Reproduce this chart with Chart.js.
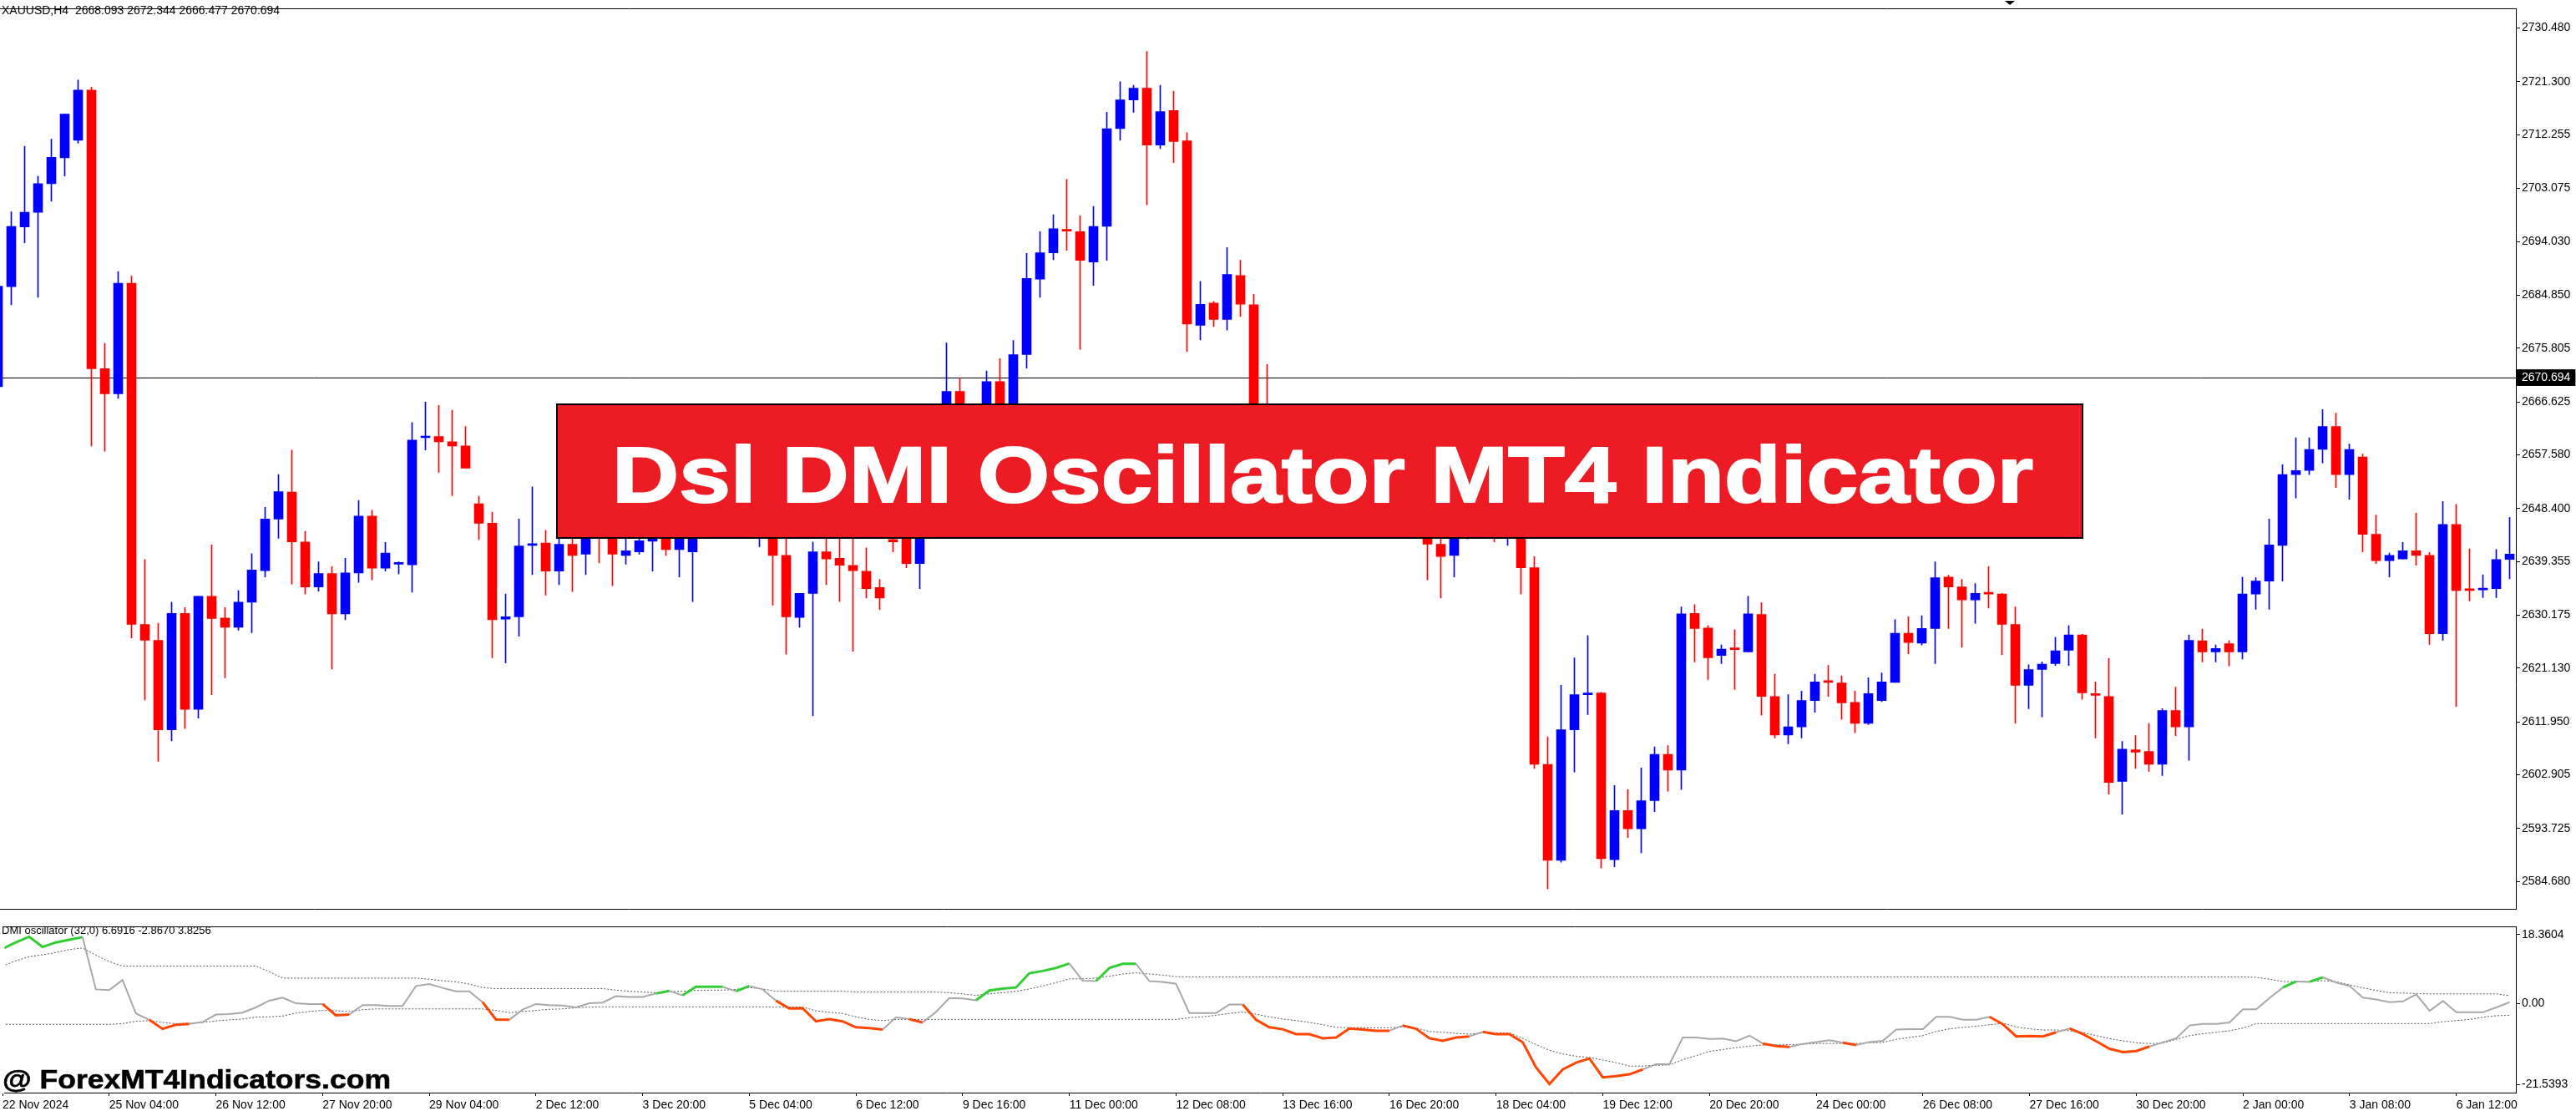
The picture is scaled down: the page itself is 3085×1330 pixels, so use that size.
<!DOCTYPE html>
<html>
<head>
<meta charset="utf-8">
<title>Dsl DMI Oscillator MT4 Indicator</title>
<script src="https://cdn.jsdelivr.net/npm/chart.js@4.4.1/dist/chart.umd.min.js"></script>
<style>
  html, body { margin: 0; padding: 0; background: #fff; }
  body { width: 3085px; height: 1330px; position: relative; overflow: hidden; font-family: "Liberation Sans", Arial, sans-serif; }
  canvas { position: absolute; left: 0; }
  #priceChart { top: 0; }
  #oscChart { top: 1099px; }
  .txt { position: absolute; white-space: nowrap; color: #000; line-height: 1; }
  #banner { position: absolute; left: 666px; top: 483px; width: 1829px; height: 162px; box-sizing: border-box;
            background: #ed1c24; border: 2px solid #000; }
  #bannerText { position: absolute; left: 65px; top: 36px; color: #fff; font-weight: bold; font-size: 95px;
                line-height: 1; white-space: nowrap; transform-origin: left center;
                -webkit-text-stroke: 2px #fff; }
  #watermark { left: 3px; top: 1276px; font-size: 32px; font-weight: bold; transform-origin: left center;
               -webkit-text-stroke: 0.6px #000; }
  #shiftMark { position: absolute; left: 2401px; top: 1px; width: 0; height: 0;
               border-left: 6px solid transparent; border-right: 6px solid transparent; border-top: 5px solid #000; }
</style>
</head>
<body>
<canvas id="priceChart" width="3085" height="1099"></canvas>
<canvas id="oscChart" width="3085" height="231"></canvas>

<div class="txt" style="left:2px; top:5px; font-size:14px;">XAUUSD,H4&nbsp;&nbsp;2668.093 2672.344 2666.477 2670.694</div>
<div class="txt" style="left:2px; top:1107px; font-size:13px;">DMI oscillator (32,0) 6.6916 -2.8670 3.8256</div>
<div id="banner"><span id="bannerText">Dsl DMI Oscillator MT4 Indicator</span></div>
<div class="txt" id="watermark">@ ForexMT4Indicators.com</div>
<div id="shiftMark"></div>

<script>
// XAUUSD H4 candles, 22 Nov 2024 .. 6 Jan 2025
const opens = [
  2669.2, 2686.3, 2696.5, 2699.0, 2703.9, 2708.3, 2711.3, 2719.9, 2672.3, 2668.0,
  2686.9, 2628.6, 2625.9, 2610.6, 2630.5, 2614.1, 2633.4, 2629.7, 2628.1, 2632.4,
  2637.8, 2646.6, 2651.2, 2642.7, 2635.0, 2637.3, 2630.4, 2637.4, 2647.1, 2638.2,
  2638.9, 2638.8, 2660.5, 2660.7, 2659.8, 2659.1, 2649.2, 2645.9, 2629.5, 2629.9,
  2642.1, 2642.5, 2637.7, 2642.3, 2640.6, 2645.0, 2644.0, 2640.4, 2641.0, 2642.8,
  2644.0, 2641.4, 2641.0, 2646.0, 2650.5, 2648.0, 2649.5, 2646.2, 2648.5, 2640.4,
  2629.8, 2633.9, 2641.0, 2639.9, 2638.7, 2637.7, 2634.9, 2643.1, 2646.0, 2639.0,
  2647.5, 2654.0, 2668.4, 2661.0, 2663.0, 2670.1, 2665.0, 2674.7, 2687.6, 2692.1,
  2696.0, 2695.7, 2690.5, 2696.6, 2713.3, 2718.2, 2720.2, 2710.5, 2716.4, 2711.2,
  2679.7, 2683.5, 2680.7, 2688.2, 2683.2, 2660.0, 2657.0, 2653.0, 2650.0, 2653.0,
  2651.0, 2648.5, 2652.0, 2649.0, 2650.5, 2651.0, 2654.0, 2648.0, 2642.3, 2640.4,
  2645.5, 2648.0, 2649.0, 2647.0, 2649.0, 2638.3, 2604.7, 2588.3, 2610.6, 2616.6,
  2616.9, 2588.4, 2596.8, 2593.7, 2598.5, 2606.4, 2603.7, 2630.5, 2628.0, 2623.3,
  2624.5, 2623.9, 2630.3, 2616.3, 2609.7, 2611.1, 2615.6, 2618.9, 2618.6, 2615.3,
  2611.7, 2615.6, 2618.7, 2627.1, 2625.4, 2627.9, 2636.7, 2635.0, 2632.8, 2634.0,
  2633.8, 2628.6, 2618.2, 2620.9, 2621.9, 2624.2, 2626.8, 2616.8, 2616.3, 2601.8,
  2607.2, 2606.9, 2604.7, 2613.9, 2611.1, 2625.8, 2623.9, 2625.3, 2623.9, 2633.8,
  2636.0, 2642.1, 2654.2, 2654.9, 2658.5, 2662.4, 2654.2, 2657.2, 2644.0, 2639.5,
  2639.8, 2641.2, 2640.4, 2627.0, 2645.7, 2634.6, 2634.5, 2634.7, 2639.7
];
const highs = [
  2687.7, 2699.1, 2710.3, 2705.2, 2711.5, 2715.8, 2721.6, 2720.4, 2676.6, 2688.9,
  2688.1, 2639.7, 2628.8, 2632.4, 2631.5, 2633.4, 2642.2, 2631.5, 2634.4, 2640.7,
  2648.6, 2654.2, 2658.4, 2644.5, 2639.3, 2638.5, 2639.9, 2649.8, 2648.1, 2642.6,
  2639.3, 2663.1, 2666.6, 2666.0, 2665.2, 2662.4, 2650.5, 2647.8, 2633.8, 2646.6,
  2652.1, 2644.7, 2644.4, 2644.4, 2646.0, 2647.0, 2646.0, 2643.2, 2644.5, 2646.0,
  2646.0, 2646.0, 2648.0, 2652.0, 2654.0, 2651.0, 2652.0, 2650.0, 2650.0, 2645.0,
  2633.9, 2642.7, 2645.0, 2645.0, 2645.0, 2641.7, 2636.3, 2645.0, 2647.0, 2649.0,
  2656.0, 2676.7, 2670.7, 2665.0, 2671.9, 2674.0, 2677.1, 2692.0, 2695.7, 2698.6,
  2704.6, 2698.4, 2700.0, 2716.1, 2721.3, 2720.7, 2726.5, 2720.7, 2719.7, 2712.6,
  2687.2, 2683.8, 2693.0, 2690.8, 2685.0, 2673.0, 2661.0, 2656.0, 2655.0, 2657.0,
  2654.0, 2653.0, 2655.0, 2652.0, 2654.0, 2656.0, 2655.0, 2650.0, 2644.0, 2647.0,
  2650.0, 2651.0, 2652.0, 2651.0, 2650.0, 2640.2, 2609.4, 2618.2, 2622.9, 2626.7,
  2617.0, 2601.1, 2600.4, 2604.1, 2607.7, 2607.9, 2631.6, 2632.0, 2628.4, 2625.1,
  2627.7, 2633.4, 2632.3, 2620.1, 2616.6, 2617.2, 2620.1, 2621.6, 2619.8, 2617.2,
  2619.5, 2620.3, 2629.4, 2629.9, 2630.1, 2639.3, 2637.0, 2636.3, 2635.6, 2638.5,
  2633.9, 2631.6, 2621.7, 2622.2, 2626.4, 2628.4, 2626.9, 2618.8, 2622.8, 2608.6,
  2609.6, 2611.7, 2614.2, 2617.9, 2626.8, 2627.8, 2625.1, 2625.8, 2636.7, 2636.6,
  2646.6, 2655.9, 2660.5, 2660.5, 2665.3, 2664.7, 2659.4, 2657.7, 2647.3, 2640.8,
  2642.6, 2647.6, 2640.9, 2649.6, 2649.1, 2641.5, 2637.1, 2641.4, 2646.9
];
const lows = [
  2668.5, 2683.2, 2693.8, 2684.5, 2700.9, 2705.2, 2710.8, 2659.1, 2658.2, 2667.2,
  2626.3, 2615.7, 2605.2, 2608.7, 2610.8, 2612.6, 2616.6, 2619.5, 2627.6, 2627.2,
  2636.7, 2643.3, 2635.5, 2633.8, 2634.3, 2621.0, 2629.4, 2635.8, 2636.2, 2637.7,
  2637.2, 2634.1, 2658.4, 2654.6, 2650.6, 2655.3, 2643.1, 2622.9, 2622.0, 2626.6,
  2637.1, 2633.6, 2635.4, 2634.2, 2637.1, 2639.1, 2635.2, 2638.9, 2640.6, 2637.7,
  2640.4, 2636.7, 2632.5, 2645.5, 2647.0, 2646.0, 2646.0, 2641.9, 2631.9, 2623.5,
  2628.1, 2613.0, 2635.4, 2632.5, 2624.0, 2633.1, 2631.1, 2641.0, 2638.3, 2634.7,
  2645.0, 2652.0, 2659.0, 2656.0, 2660.0, 2663.0, 2663.0, 2672.4, 2684.5, 2690.9,
  2692.5, 2675.6, 2686.5, 2690.8, 2711.3, 2716.1, 2700.3, 2709.9, 2707.5, 2675.2,
  2677.2, 2679.5, 2678.9, 2681.2, 2657.0, 2655.0, 2651.0, 2648.0, 2647.0, 2649.0,
  2647.0, 2646.5, 2648.0, 2646.5, 2647.0, 2648.0, 2647.0, 2636.2, 2633.1, 2636.7,
  2643.2, 2645.5, 2642.7, 2642.1, 2633.8, 2604.0, 2583.4, 2588.0, 2603.4, 2613.2,
  2587.0, 2587.2, 2592.2, 2589.6, 2596.6, 2600.1, 2600.4, 2622.2, 2619.2, 2621.9,
  2617.5, 2623.9, 2613.1, 2609.2, 2608.2, 2609.2, 2613.6, 2616.3, 2612.4, 2610.1,
  2611.5, 2615.4, 2618.7, 2623.6, 2625.1, 2621.9, 2627.9, 2624.7, 2628.8, 2631.4,
  2623.4, 2611.7, 2614.2, 2612.8, 2621.6, 2621.6, 2615.8, 2609.2, 2599.6, 2596.2,
  2604.0, 2603.5, 2602.8, 2609.6, 2605.4, 2622.2, 2622.2, 2621.5, 2622.7, 2631.2,
  2631.2, 2636.0, 2650.2, 2654.2, 2656.2, 2652.0, 2650.0, 2641.0, 2639.0, 2636.7,
  2639.8, 2638.7, 2625.2, 2625.9, 2614.6, 2632.6, 2633.2, 2633.2, 2636.4
];
const closes = [
  2686.4, 2696.6, 2699.0, 2703.9, 2708.4, 2715.8, 2719.9, 2672.3, 2668.0, 2686.9,
  2628.6, 2625.9, 2610.6, 2630.5, 2614.1, 2633.4, 2629.6, 2628.1, 2632.4, 2637.9,
  2646.6, 2651.3, 2642.7, 2635.0, 2637.3, 2630.4, 2637.4, 2647.1, 2638.2, 2640.8,
  2639.0, 2660.1, 2660.6, 2659.8, 2659.1, 2655.3, 2645.9, 2629.4, 2629.9, 2642.0,
  2642.4, 2637.7, 2642.3, 2640.4, 2643.9, 2643.5, 2640.6, 2641.2, 2642.9, 2644.0,
  2641.4, 2644.0, 2646.0, 2650.5, 2648.0, 2649.5, 2647.0, 2648.5, 2640.4, 2629.9,
  2633.9, 2641.0, 2639.8, 2638.7, 2637.8, 2634.7, 2633.1, 2642.7, 2639.0, 2647.5,
  2654.0, 2668.4, 2661.0, 2663.0, 2670.1, 2665.0, 2674.7, 2687.7, 2692.1, 2696.2,
  2695.8, 2690.8, 2696.6, 2713.3, 2718.2, 2720.2, 2710.5, 2716.2, 2711.1, 2679.9,
  2683.3, 2680.7, 2688.4, 2683.3, 2660.0, 2657.0, 2653.0, 2650.0, 2653.0, 2651.0,
  2648.5, 2652.0, 2649.0, 2650.5, 2651.0, 2654.0, 2648.0, 2642.3, 2640.2, 2645.5,
  2648.0, 2649.0, 2647.0, 2649.0, 2638.3, 2604.7, 2588.3, 2610.6, 2616.6, 2616.9,
  2588.6, 2596.8, 2593.7, 2598.5, 2606.4, 2603.7, 2630.4, 2627.9, 2622.9, 2624.4,
  2624.3, 2630.4, 2616.3, 2609.7, 2611.1, 2615.6, 2618.8, 2618.7, 2615.2, 2611.7,
  2616.8, 2618.8, 2627.1, 2625.5, 2627.9, 2636.6, 2635.0, 2632.8, 2633.9, 2633.8,
  2628.6, 2618.2, 2620.9, 2621.8, 2624.1, 2626.8, 2616.9, 2616.5, 2601.6, 2607.3,
  2606.8, 2604.7, 2613.9, 2611.1, 2625.9, 2623.9, 2624.5, 2623.9, 2633.8, 2636.0,
  2642.2, 2654.2, 2654.9, 2658.5, 2662.4, 2654.2, 2658.5, 2644.0, 2639.5, 2640.4,
  2641.2, 2640.4, 2627.0, 2645.7, 2634.4, 2634.4, 2634.7, 2639.7, 2640.6
];

// DMI oscillator line and its two dotted bands, one value per bar
const oscMain = [
  14.6, 16.3, 17.8, 15.1, 16.3, 17.0, 17.7, 3.8, 3.6, 6.3,
  -2.6, -4.3, -6.7, -5.6, -5.4, -4.9, -2.9, -2.8, -2.4, -1.0,
  0.8, 1.6, 0.1, -0.1, -0.1, -3.1, -2.9, -0.4, -0.4, -0.6,
  -0.6, 4.7, 5.2, 4.2, 3.3, 3.3, 0.4, -4.2, -4.3, -1.6,
  -0.1, -0.4, -0.5, -1.0, 0.1, 0.3, 2.0, 1.8, 1.8, 2.7,
  3.4, 2.2, 4.5, 4.5, 4.5, 3.3, 4.7, 3.8, 0.8, -1.3,
  -1.2, -4.7, -4.1, -4.7, -6.3, -6.5, -6.9, -3.6, -4.1, -5.0,
  -2.2, 1.5, 1.4, 0.9, 3.5, 4.0, 4.3, 8.1, 8.7, 9.5,
  10.7, 6.1, 6.0, 9.5, 10.6, 10.6, 6.0, 5.8, 5.3, -2.5,
  -2.5, -2.5, -0.2, -0.2, -4.3, -6.3, -6.8, -8.1, -8.1, -9.2,
  -9.0, -6.6, -6.9, -7.2, -7.2, -5.8, -6.7, -9.2, -9.9, -9.0,
  -8.7, -7.5, -8.1, -8.1, -10.3, -17.0, -21.4, -17.5, -15.7, -14.6,
  -19.6, -19.3, -18.8, -17.5, -16.1, -16.1, -9.0, -9.0, -9.4, -9.3,
  -10.0, -8.5, -10.6, -11.3, -11.5, -10.7, -10.2, -9.7, -10.4, -11.0,
  -10.2, -9.9, -6.9, -6.8, -6.8, -3.5, -3.5, -4.3, -4.3, -3.5,
  -5.5, -8.7, -8.6, -8.7, -7.6, -6.6, -8.1, -10.0, -12.0, -12.9,
  -12.6, -11.4, -10.3, -9.2, -5.8, -5.4, -5.4, -5.0, -1.5, -1.5,
  1.5, 4.3, 5.9, 5.8, 7.0, 5.6, 4.7, 1.6, 1.1, 0.4,
  0.6, 2.5, -1.9, 0.7, -2.3, -2.3, -2.3, -1.0, 0.4
];
const oscUpper = [
  10.0, 11.4, 12.5, 13.0, 13.6, 14.4, 14.8, 12.9, 11.2, 10.0,
  10.0, 10.0, 10.0, 10.0, 10.0, 10.0, 10.0, 10.0, 10.0, 10.0,
  8.5, 6.8, 6.8, 6.8, 6.8, 6.8, 6.8, 6.8, 6.8, 6.8,
  6.8, 6.8, 6.5, 6.1, 5.8, 5.2, 4.3, 4.0, 4.0, 4.0,
  4.0, 4.0, 4.0, 4.0, 4.0, 4.0, 3.6, 3.3, 3.1, 2.9,
  3.2, 3.3, 3.5, 3.6, 3.6, 3.8, 4.3, 3.9, 3.3, 3.3,
  3.3, 3.3, 3.3, 3.3, 3.1, 3.1, 3.1, 3.1, 3.1, 3.1,
  3.1, 2.9, 2.6, 2.2, 2.6, 2.9, 3.3, 3.9, 4.7, 5.6,
  6.6, 6.6, 6.8, 7.3, 7.9, 8.2, 7.9, 7.6, 7.2, 7.1,
  7.1, 7.1, 7.1, 7.1, 7.1, 7.1, 7.1, 7.1, 7.1, 7.1,
  7.1, 7.1, 7.1, 7.1, 7.1, 7.1, 7.1, 7.1, 7.1, 7.1,
  7.1, 7.1, 7.1, 7.1, 7.1, 7.1, 7.1, 7.1, 7.1, 7.1,
  7.1, 7.1, 7.1, 7.1, 7.1, 7.1, 7.1, 7.1, 7.1, 7.1,
  7.1, 7.1, 7.1, 7.1, 7.1, 7.1, 7.1, 7.1, 7.1, 7.1,
  7.1, 7.1, 7.1, 7.1, 7.1, 7.1, 7.1, 7.1, 7.1, 7.1,
  7.1, 7.1, 7.1, 7.1, 7.1, 7.1, 7.1, 7.1, 7.1, 7.1,
  7.1, 7.1, 7.1, 7.1, 7.1, 7.1, 7.1, 7.1, 7.1, 7.0,
  6.5, 5.9, 5.8, 5.9, 6.1, 5.8, 5.0, 4.2, 3.5, 2.9,
  2.8, 2.7, 2.6, 2.6, 2.6, 2.6, 2.6, 2.6, 2.1
];
const oscLower = [
  -5.5, -5.5, -5.5, -5.5, -5.5, -5.5, -5.5, -5.5, -5.5, -5.3,
  -4.7, -4.5, -5.0, -5.3, -5.2, -5.0, -4.6, -4.3, -4.1, -3.6,
  -3.5, -3.3, -2.5, -2.1, -1.8, -1.9, -2.1, -1.6, -1.4, -1.4,
  -1.4, -1.4, -1.4, -1.4, -1.4, -1.4, -1.4, -1.8, -2.4, -2.1,
  -1.8, -1.5, -1.4, -1.1, -0.9, -0.85, -0.85, -0.85, -0.85, -0.85,
  -0.85, -0.85, -0.85, -0.85, -0.85, -0.85, -0.85, -0.85, -0.9, -0.9,
  -0.9, -1.9, -2.3, -2.6, -3.5, -4.2, -4.5, -4.2, -4.2, -4.2,
  -4.2, -4.2, -4.2, -4.2, -4.2, -4.2, -4.2, -4.2, -4.2, -4.2,
  -4.2, -4.2, -4.2, -4.2, -4.2, -4.2, -4.2, -4.2, -4.2, -3.7,
  -3.5, -3.1, -2.6, -2.2, -2.8, -3.5, -4.1, -4.5, -5.0, -5.6,
  -6.3, -6.4, -6.4, -6.4, -6.4, -6.2, -6.5, -7.4, -7.6, -7.9,
  -8.1, -7.8, -7.8, -7.8, -9.2, -10.9, -12.4, -13.4, -14.0, -14.3,
  -15.0, -15.7, -16.6, -16.6, -16.4, -16.3, -14.9, -13.8, -12.7, -12.2,
  -11.7, -11.3, -11.0, -11.0, -10.9, -10.8, -10.6, -10.6, -10.6, -10.6,
  -10.4, -10.3, -9.5, -9.0, -8.5, -7.4, -6.7, -6.3, -6.0, -5.6,
  -5.2, -6.2, -6.7, -7.0, -7.0, -7.2, -7.7, -8.5, -9.3, -9.9,
  -10.4, -10.6, -10.5, -9.5, -8.5, -8.0, -7.6, -7.2, -6.5, -5.3,
  -5.3, -5.3, -5.3, -5.3, -5.3, -5.3, -5.3, -5.3, -5.3, -5.3,
  -5.3, -5.3, -5.3, -4.8, -4.5, -4.2, -3.6, -3.2, -3.1
];

const priceTicks = [2584.680, 2593.725, 2602.905, 2611.950, 2621.130, 2630.175, 2639.355, 2648.400,
  2657.580, 2666.625, 2670.694, 2675.805, 2684.850, 2694.030, 2703.075, 2712.255, 2721.300, 2730.480];
const lastPrice = 2670.694;
const oscTicks = [-21.5393, 0, 18.3604];
const oscTickLabels = ["-21.5393", "0.00", "18.3604"];
const dateIdx = [0, 8, 16, 24, 32, 40, 48, 56, 64, 72, 80, 88, 96, 104, 112, 120, 128, 136, 144, 152, 160, 168, 176, 184];
const dateLabels = ["22 Nov 2024", "25 Nov 04:00", "26 Nov 12:00", "27 Nov 20:00", "29 Nov 04:00", "2 Dec 12:00",
  "3 Dec 20:00", "5 Dec 04:00", "6 Dec 12:00", "9 Dec 16:00", "11 Dec 00:00", "12 Dec 08:00", "13 Dec 16:00",
  "16 Dec 20:00", "18 Dec 04:00", "19 Dec 12:00", "20 Dec 20:00", "24 Dec 00:00", "26 Dec 08:00",
  "27 Dec 16:00", "30 Dec 20:00", "2 Jan 00:00", "3 Jan 08:00", "6 Jan 12:00"];

// 16 px per bar, plot area 3013 px wide
const xMin = 2.5 / 16;
const xMax = xMin + 3013 / 16;
const axisFont = { family: "Liberation Sans", size: 14 };

function candleColor(ctx) {
  const i = ctx.dataIndex;
  return closes[i] >= opens[i] ? "#0000ff" : "#ff0000";
}

function edgeAxis(position) {
  return {
    type: "linear", axis: "x", position: position, min: xMin, max: xMax, offset: false,
    grid: { display: false }, ticks: { display: false },
    border: { display: true, color: "#000", width: 1 },
    afterFit: s => { s.height = 1; }
  };
}

function oscState(i) {
  if (oscMain[i] > oscUpper[i]) return "up";
  if (oscMain[i] < oscLower[i]) return "down";
  return "flat";
}

Chart.defaults.font.family = "Liberation Sans";

function drawPrice() {
  const wicks = closes.map((c, i) => ({ x: i, y: [lows[i], highs[i]] }));
  const bodies = closes.map((c, i) => ({ x: i, y: [opens[i], c] }));

  new Chart(document.getElementById("priceChart"), {
    type: "bar",
    data: {
      datasets: [
        { data: wicks, backgroundColor: candleColor, barThickness: 1, minBarLength: 1, grouped: false,
          xAxisID: "x", yAxisID: "y", order: 2 },
        { data: bodies, backgroundColor: candleColor, barThickness: 11, minBarLength: 2, grouped: false,
          xAxisID: "x", yAxisID: "y", order: 1 }
      ]
    },
    options: {
      responsive: false, animation: false, devicePixelRatio: 1,
      layout: { padding: 0 },
      plugins: { legend: { display: false }, tooltip: { enabled: false } },
      scales: {
        x: edgeAxis("bottom"),
        xTop: edgeAxis("top"),
        y: {
          position: "right", min: 2579.93, max: 2733.79,
          afterBuildTicks: s => { s.ticks = priceTicks.map(v => ({ value: v })); },
          afterFit: s => { s.width = 72; },
          ticks: {
            autoSkip: false, padding: 2, font: axisFont,
            color: ctx => ctx.tick && ctx.tick.value === lastPrice ? "#fff" : "#000",
            showLabelBackdrop: ctx => !!(ctx.tick && ctx.tick.value === lastPrice),
            backdropColor: "#000",
            backdropPadding: { top: 2, bottom: 1, left: 6, right: 6 },
            callback: v => v.toFixed(3)
          },
          grid: {
            drawOnChartArea: true, tickLength: 5, tickColor: "#000",
            color: ctx => ctx.tick && ctx.tick.value === lastPrice ? "#000" : "rgba(0,0,0,0)"
          },
          border: { display: true, color: "#000", width: 1 }
        }
      }
    }
  });
}

function drawOscillator() {
  const colors = { up: "#32cd32", down: "#ff4500", flat: "#a8a8a8" };
  new Chart(document.getElementById("oscChart"), {
    type: "line",
    data: {
      datasets: [
        { data: oscMain.map((v, i) => ({ x: i, y: v })), borderColor: colors.flat, borderWidth: 2,
          pointRadius: 0, tension: 0, xAxisID: "x", yAxisID: "y", order: 1,
          segment: {
            borderColor: c => colors[oscState(c.p1DataIndex)],
            borderWidth: c => oscState(c.p1DataIndex) === "flat" ? 2 : 3
          } },
        { data: oscUpper.map((v, i) => ({ x: i, y: v })), borderColor: "#555555", borderWidth: 1,
          borderDash: [2, 2], pointRadius: 0, xAxisID: "x", yAxisID: "y", order: 2 },
        { data: oscLower.map((v, i) => ({ x: i, y: v })), borderColor: "#555555", borderWidth: 1,
          borderDash: [2, 2], pointRadius: 0, xAxisID: "x", yAxisID: "y", order: 3 }
      ]
    },
    options: {
      responsive: false, animation: false, devicePixelRatio: 1,
      layout: { padding: { top: 1 } },
      plugins: { legend: { display: false }, tooltip: { enabled: false } },
      scales: {
        x: {
          type: "linear", position: "bottom", min: xMin, max: xMax, offset: false,
          afterBuildTicks: s => { s.ticks = dateIdx.map(v => ({ value: v })); },
          afterFit: s => { s.height = 22; },
          ticks: { autoSkip: false, maxRotation: 0, minRotation: 0, align: "start", padding: 3,
                   font: axisFont, color: "#000", callback: (v, k) => dateLabels[k] },
          grid: { drawOnChartArea: false, tickLength: 4, color: "#000" },
          border: { display: true, color: "#000", width: 1 }
        },
        xTop: edgeAxis("top"),
        y: {
          position: "right", min: -23.67, max: 20.47,
          afterBuildTicks: s => { s.ticks = oscTicks.map(v => ({ value: v })); },
          afterFit: s => { s.width = 72; },
          ticks: { autoSkip: false, padding: 2, font: axisFont, color: "#000", callback: (v, k) => oscTickLabels[k] },
          grid: { drawOnChartArea: false, tickLength: 5, color: "#000" },
          border: { display: true, color: "#000", width: 1 }
        }
      }
    }
  });
}

function fitWidth(id, target) {
  const el = document.getElementById(id);
  const w = el.getBoundingClientRect().width;
  if (w > 0) el.style.transform = "scaleX(" + (target / w) + ")";
}

drawPrice();
drawOscillator();
fitWidth("bannerText", 1702);
fitWidth("watermark", 465);
</script>
</body>
</html>
